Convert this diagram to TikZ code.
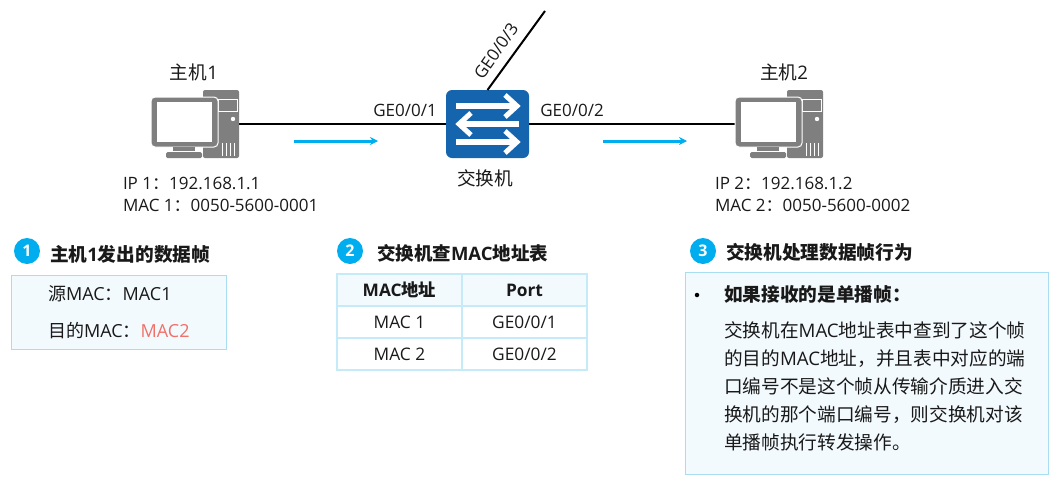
\documentclass[tikz,border=0pt]{standalone}
\usepackage{fontspec}
\setmainfont{Noto Sans CJK SC}
\newfontfamily\latinf{Open Sans}
\newcommand{\la}[1]{{\latinf #1}}
\usetikzlibrary{arrows.meta}
\definecolor{cyanA}{HTML}{00AEEF}
\definecolor{boxfill}{HTML}{F3FAFE}
\definecolor{boxline}{HTML}{A8DDF2}
\definecolor{cellline}{HTML}{C5EAF8}
\definecolor{swblue}{HTML}{1565AE}
\definecolor{pcgray}{HTML}{7F7F7F}
\definecolor{redtxt}{HTML}{F0706A}
\tikzset{
  every node/.style={inner sep=0pt,outer sep=0pt,text=black!90},
  lbl/.style={font=\fontsize{18.67}{18.67}\selectfont},
  port/.style={font=\fontsize{17}{17}\selectfont\latinf},
  info/.style={anchor=base west,font=\fontsize{17}{17}\selectfont},
  txt/.style={anchor=base west,font=\fontsize{18}{18}\selectfont},
  body/.style={anchor=base west,font=\fontsize{18.67}{18.67}\selectfont},
  head/.style={anchor=base west,font=\fontsize{18.67}{18.67}\selectfont\bfseries},
  badge/.style={circle,fill=cyanA,minimum size=26pt,text=white,font=\fontsize{16}{16}\selectfont\bfseries\latinf},
  wire/.style={draw=black,line width=2pt},
  flow/.style={draw=cyanA,line width=3pt,-{Stealth[length=8pt,width=8pt]}},
  cell/.style={draw=cellline,line width=1.5pt,minimum height=32pt,font=\fontsize{17.3}{17.3}\selectfont},
  hcell/.style={cell,fill=boxfill,font=\fontsize{17.3}{17.3}\selectfont\bfseries},
  panel/.style={draw=boxline,fill=boxfill,line width=1pt},
  swarrow/.style={draw=white,line width=6pt},
  swhead/.style={draw=white,line width=5pt,miter limit=4},
  pc/.pic={
    \fill[pcgray,rounded corners=2pt] (8,-34) rectangle (44,34);
    \draw[white,line width=1pt] (23,-25) rectangle (42,-13);
    \fill[white] (38,-5) circle (2.2);
    \foreach \vx in {27,31,35,39} \draw[white,line width=1pt] (\vx,19) -- (\vx,32);
    \fill[pcgray,draw=white,line width=1pt,rounded corners=4pt] (-44,-27) rectangle (23,23);
    \fill[white] (-38,-22) rectangle (17,18);
    \fill[pcgray] (-22,23) rectangle (0,27);
    \fill[pcgray,rounded corners=1.5pt] (-29,28) rectangle (7,34);
  }
}
\begin{document}
\begin{tikzpicture}[x=1pt,y=-1pt]
\useasboundingbox (0,0) rectangle (1058,485);
% devices
\node[minimum width=88pt,minimum height=68pt] (host1) at (195,124) {};
\node[minimum width=88pt,minimum height=68pt] (host2) at (779,124) {};
\node[fill=swblue,rounded corners=6pt,minimum width=83pt,minimum height=68pt] (sw) at (487.5,124) {};
\coordinate (up) at (545,11);
\draw[wire] (host1.east) -- (sw.west);
\draw[wire] (sw.east) -- (host2.west);
\draw[wire] (sw.north) -- (up);
\pic at (host1.center) {pc};
\pic at (host2.center) {pc};
% switch arrows
\draw[swarrow] (456,106) -- (516,106);
\draw[swhead] (505,95) -- (517,106) -- (505,117);
\draw[swarrow] (519,124) -- (459,124);
\draw[swhead] (471,113) -- (459,124) -- (471,135);
\draw[swarrow] (456,142) -- (516,142);
\draw[swhead] (505,131) -- (517,142) -- (505,153);
% flow arrows
\coordinate (f1a) at (294,141); \coordinate (f1b) at (378,141);
\coordinate (f2a) at (603,141); \coordinate (f2b) at (687,141);
\draw[flow] (f1a) -- (f1b);
\draw[flow] (f2a) -- (f2b);
% labels
\node[lbl] (t1) at (194,72) {主机\la{1}};
\node[lbl] (t2) at (784,72) {主机\la{2}};
\node[lbl] (swt) at (485,178) {交换机};
\node[port] (p1) at (405,110) {GE0/0/1};
\node[port] (p2) at (572,110) {GE0/0/2};
\node[port,rotate=55] (p3) at (496,51) {GE0/0/3};
\node[info] (ip1) at (123,189) {\la{IP 1}：\la{192.168.1.1}};
\node[info] (mac1) at (123,211) {\la{MAC 1}：\la{0050-5600-0001}};
\node[info] (ip2) at (715,189) {\la{IP 2}：\la{192.168.1.2}};
\node[info] (mac2) at (715,211) {\la{MAC 2}：\la{0050-5600-0002}};
% section 1
\node[badge] (b1) at (27,251) {1};
\node[head] (h1) at (50,261) {主机\la{1}发出的数据帧};
\node[panel,minimum width=215pt,minimum height=74pt] (box1) at (119,312) {};
\node[txt] (s1) at (48,300) {源\la{MAC}：\la{MAC1}};
\node[txt] (s2) at (48,337) {目的\la{MAC}：\textcolor{redtxt}{\la{MAC2}}};
% section 2
\node[badge] (b2) at (350,251) {2};
\node[head,font=\fontsize{18.5}{18.5}\selectfont\bfseries] (h2) at (377,260) {交换机查\la{MAC}地址表};
\node[hcell,minimum width=125pt] (c11) at (399.5,290) {\la{MAC}地址};
\node[hcell,minimum width=125pt] (c12) at (524.5,290) {\la{Port}};
\node[cell,minimum width=125pt] (c21) at (399.5,322) {\la{MAC 1}};
\node[cell,minimum width=125pt] (c22) at (524.5,322) {\la{GE0/0/1}};
\node[cell,minimum width=125pt] (c31) at (399.5,354) {\la{MAC 2}};
\node[cell,minimum width=125pt] (c32) at (524.5,354) {\la{GE0/0/2}};
% section 3
\node[badge] (b3) at (703,251) {3};
\node[head] (h3) at (726,259) {交换机处理数据帧行为};
\node[panel,minimum width=363pt,minimum height=202pt] (box3) at (866.5,373) {};
\node[circle,fill=black,minimum size=4.5pt] (bul) at (697,295) {};
\node[head] (b0) at (724,301) {如果接收的是单播帧：};
\node[body] (l1) at (724,337) {交换机在\la{MAC}地址表中查到了这个帧};
\node[body] (l2) at (724,365) {的目的\la{MAC}地址，并且表中对应的端};
\node[body] (l3) at (724,393) {口编号不是这个帧从传输介质进入交};
\node[body] (l4) at (724,421) {换机的那个端口编号，则交换机对该};
\node[body] (l5) at (724,449) {单播帧执行转发操作。};
\end{tikzpicture}
\end{document}
